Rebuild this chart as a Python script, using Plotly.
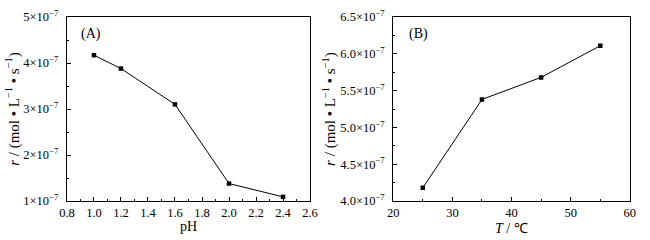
import plotly.graph_objects as go
from plotly.subplots import make_subplots

ph = [1.0, 1.2, 1.6, 2.0, 2.4]
rate_ph = [4.17e-7, 3.88e-7, 3.10e-7, 1.38e-7, 1.09e-7]
temp = [25, 35, 45, 55]
rate_t = [4.18e-7, 5.38e-7, 5.68e-7, 6.11e-7]

yticks_a = [1e-7, 2e-7, 3e-7, 4e-7, 5e-7]
yticktext_a = ["1×10<sup>−7</sup>", "2×10<sup>−7</sup>", "3×10<sup>−7</sup>", "4×10<sup>−7</sup>", "5×10<sup>−7</sup>"]
yticks_b = [4.0e-7, 4.5e-7, 5.0e-7, 5.5e-7, 6.0e-7, 6.5e-7]
yticktext_b = ["4.0×10<sup>−7</sup>", "4.5×10<sup>−7</sup>", "5.0×10<sup>−7</sup>", "5.5×10<sup>−7</sup>", "6.0×10<sup>−7</sup>", "6.5×10<sup>−7</sup>"]
xticks_a = [0.8, 1.0, 1.2, 1.4, 1.6, 1.8, 2.0, 2.2, 2.4, 2.6]
xticktext_a = ["0.8", "1.0", "1.2", "1.4", "1.6", "1.8", "2.0", "2.2", "2.4", "2.6"]
xticks_b = [20, 30, 40, 50, 60]

FONT = "Liberation Serif"
TICKF = dict(family=FONT, size=12.5, color="black")
TITLEF = dict(family=FONT, size=14, color="black")
YTITLEF = dict(family=FONT, size=15, color="black")
fig = make_subplots(rows=1, cols=2)

line = dict(color="black", width=1)
marker = dict(symbol="square", size=4.5, color="black")
fig.add_trace(go.Scatter(x=ph, y=rate_ph, mode="lines+markers", line=line, marker=marker), row=1, col=1)
fig.add_trace(go.Scatter(x=temp, y=rate_t, mode="lines+markers", line=line, marker=marker), row=1, col=2)

axis_common = dict(showline=True, linecolor="black", linewidth=1, mirror=True, automargin=False,
                   ticks="inside", ticklen=4, tickcolor="black", showgrid=False, zeroline=False,
                   tickfont=TICKF)

fig.update_xaxes(**axis_common)
fig.update_yaxes(**axis_common)
fig.update_yaxes(ticklabelstandoff=5)

fig.update_xaxes(row=1, col=1, domain=[0.103, 0.477], range=[0.8, 2.6], tickvals=xticks_a, ticktext=xticktext_a,
                 minor=dict(ticks="inside", dtick=0.1, tick0=0.8, ticklen=2, tickcolor="black"))
fig.update_xaxes(row=1, col=2, domain=[0.605, 0.969], range=[20, 60], tickvals=xticks_b,
                 minor=dict(ticks="inside", dtick=5, tick0=20, ticklen=2, tickcolor="black"))
ytitle = "<i>r</i> / (mol • L<sup>−1</sup> • s<sup>−1</sup>)"
fig.update_yaxes(row=1, col=1, domain=[0.1625, 0.929], range=[1e-7, 5e-7], tickvals=yticks_a, ticktext=yticktext_a,
                 minor=dict(ticks="inside", dtick=0.5e-7, tick0=1e-7, ticklen=2, tickcolor="black"),
                 title=dict(text=ytitle, font=YTITLEF, standoff=0))
fig.update_yaxes(row=1, col=2, domain=[0.1625, 0.929], range=[4.0e-7, 6.5e-7], tickvals=yticks_b, ticktext=yticktext_b,
                 minor=dict(ticks="inside", dtick=0.25e-7, tick0=4e-7, ticklen=2, tickcolor="black"),
                 title=dict(text=ytitle, font=YTITLEF, standoff=0))

# x-axis titles placed just below the tick labels
fig.add_annotation(text="pH", xref="x domain", yref="paper", x=0.5, y=0.058, xanchor="center", yanchor="middle",
                   showarrow=False, font=TITLEF)
fig.add_annotation(text="<i>T</i> / ℃", xref="x2 domain", yref="paper", x=0.5, y=0.05, xanchor="center", yanchor="middle",
                   showarrow=False, font=TITLEF)

fig.add_annotation(text="(A)", xref="x domain", yref="y domain", x=0.05, y=0.91, xanchor="left", yanchor="middle",
                   showarrow=False, font=TITLEF)
fig.add_annotation(text="(B)", xref="x2 domain", yref="y2 domain", x=0.06, y=0.91, xanchor="left", yanchor="middle",
                   showarrow=False, font=TITLEF)

fig.update_layout(width=650, height=240, margin=dict(l=0, r=0, t=0, b=0), showlegend=False,
                  plot_bgcolor="white", paper_bgcolor="white", font=dict(family=FONT, size=12, color="black"))
fig.write_html("out.html", config={"displayModeBar": False}, post_script="document.body.style.margin='0';")
